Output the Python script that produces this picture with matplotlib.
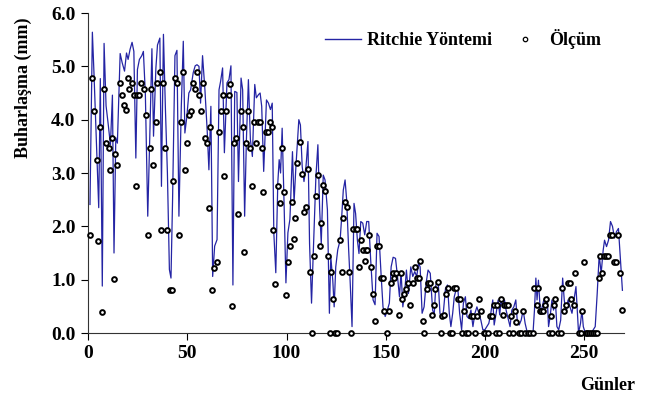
import numpy as np
import matplotlib
matplotlib.use('Agg')
import matplotlib.pyplot as plt
from matplotlib.lines import Line2D

# Ritchie Yöntemi (line): day, value
ritchie_gun = [
    1.0, 2.2, 3.0, 4.4, 5.4, 6.2, 7.2, 8.1, 9.1, 10.1, 11.3, 12.3, 13.1, 14.0, 14.8,
    16.2, 17.2, 18.4, 19.4, 20.2, 21.2, 22.2, 23.1, 24.1, 24.9, 25.9, 27.1, 27.9, 28.9,
    30.1, 31.0, 32.2, 33.0, 34.2, 35.0, 36.2, 37.0, 38.0, 39.0, 40.0, 41.0, 41.8, 42.6,
    43.8, 44.8, 45.8, 47.0, 48.0, 48.8, 49.8, 50.8, 51.7, 53.0, 54.0, 54.9, 55.9, 56.7,
    57.7, 58.9, 60.1, 60.9, 61.9, 62.8, 63.8, 65.0, 66.0, 66.8, 67.8, 68.7, 70.0, 71.0,
    72.0, 73.0, 73.9, 75.0, 75.8, 77.1, 77.9, 78.9, 79.8, 80.8, 81.8, 82.8, 84.0, 84.8,
    85.9, 86.7, 87.5, 88.5, 89.9, 90.9, 91.9, 92.8, 93.6, 94.6, 95.6, 96.3, 97.0, 97.8,
    98.8, 99.7, 100.7, 101.7, 103.0, 103.8, 104.7, 106.2, 107.0, 107.9, 108.8, 109.8,
    110.8, 111.6, 112.6, 113.8, 114.8, 115.8, 116.7, 117.5, 118.5, 119.4, 120.6, 121.6,
    122.3, 123.3, 124.0, 124.8, 125.8, 127.0, 127.8, 128.6, 129.5, 130.3, 131.3, 132.1,
    133.0, 134.0, 134.8, 135.7, 136.5, 137.4, 138.4, 139.4, 140.4, 141.4, 142.4, 143.6,
    144.6, 145.6, 146.6, 147.6, 148.6, 149.7, 150.8, 151.8, 152.7, 153.7, 154.9, 155.9,
    156.9, 157.7, 158.6, 159.6, 160.4, 161.4, 162.6, 163.6, 164.6, 165.6, 166.5, 167.3,
    168.3, 169.3, 170.3, 171.3, 172.4, 173.6, 174.4, 175.2, 176.4, 177.3, 178.3, 179.1,
    180.1, 181.1, 182.0, 182.8, 183.7, 184.5, 185.4, 186.2, 187.2, 188.2, 189.1, 190.1,
    190.9, 191.9, 192.9, 193.9, 194.9, 195.9, 196.9, 197.9, 198.9, 199.9, 200.9, 201.9,
    202.9, 203.9, 204.6, 205.6, 206.6, 207.4, 208.1, 209.0, 209.8, 210.6, 211.8, 212.6,
    213.5, 214.5, 215.5, 216.2, 217.2, 218.2, 219.2, 220.2, 221.2, 222.2, 223.2, 224.2,
    224.9, 225.6, 226.2, 226.9, 227.8, 228.6, 229.6, 230.6, 231.3, 232.0, 232.8, 233.7,
    234.5, 235.4, 236.2, 237.1, 238.1, 239.1, 239.9, 240.8, 241.8, 242.8, 243.8, 244.8,
    245.8, 247.1, 248.1, 248.8, 249.5, 250.5, 251.5, 252.5, 253.5, 254.5, 255.5, 256.5,
    257.5, 258.5, 259.5, 260.2, 261.2, 262.2, 263.2, 264.2, 265.2, 266.2, 267.2, 268.2,
    269.2]
ritchie_deger = [
    2.41, 5.64, 4.88, 3.40, 2.35, 4.77, 0.88, 5.43, 4.26, 3.94, 3.53, 4.46, 1.50, 3.66, 3.56,
    5.24, 5.07, 4.91, 5.25, 5.13, 5.32, 5.45, 5.28, 3.28, 4.94, 5.13, 5.20, 5.28, 4.47,
    2.19, 3.50, 5.33, 3.69, 4.97, 5.40, 5.53, 2.75, 5.60, 4.20, 3.00, 1.19, 1.03, 2.50,
    5.20, 5.30, 2.19, 4.25, 5.47, 3.75, 4.06, 4.50, 4.56, 4.88, 5.01, 5.03, 5.00, 4.31,
    5.20, 4.56, 3.75, 3.06, 4.25, 1.06, 1.63, 1.75, 4.56, 4.72, 4.97, 3.38, 4.69, 4.75,
    5.01, 0.90, 4.53, 4.51, 2.84, 4.78, 4.56, 2.19, 3.63, 4.75, 3.63, 3.31, 4.66, 4.41,
    4.47, 4.50, 4.25, 3.03, 4.37, 4.31, 4.19, 4.31, 1.88, 1.13, 2.81, 3.25, 3.00, 3.84,
    2.38, 0.94, 1.88, 2.13, 3.40, 2.45, 3.10, 4.00, 3.90, 3.12, 2.84, 3.12,
    3.59, 1.68, 0.56, 1.87, 2.93, 3.53, 2.31, 1.68, 2.96, 2.87, 2.31, 0.37,
    1.43, 0.99, 0.49, 1.24, 1.56, 1.74, 2.18, 2.68, 2.87, 2.49, 1.56, 0.93,
    0.12, 2.43, 2.24, 1.74, 1.49, 2.09, 2.06, 1.84, 2.09, 2.09, 1.37, 0.62,
    0.53, 1.87, 1.81, 1.12, 0.49, 0.31, 0.43, 0.56, 1.24, 1.42, 1.40, 1.06,
    0.68, 1.15, 0.49, 0.81, 1.18, 0.74, 1.24, 1.06, 1.15, 1.06, 1.31, 1.24,
    0.37, 0.49, 0.93, 1.18, 1.12, 0.43, 0.34, 0.90, 0.96, 0.37, 0.27, 0.43,
    0.84, 0.90, 0.37, 0.12, 0.37, 0.68, 0.81, 0.88, 0.37, 0.06, 0.56, 0.68,
    0.31, 0.27, 0.43, 0.12, 0.37, 0.49, 0.37, 0.24, 0.06, 0.06, 0.12, 0.18,
    0.37, 0.62, 0.15, 0.37, 0.62, 0.34, 0.62, 0.49, 0.62, 0.43, 0.24, 0.12,
    0.43, 0.49, 0.62, 0.24, 0.15, 0.24, 0.43, 0.18, 0.02, 0.02, 0.02, 0.02,
    0.43, 1.03, 0.62, 0.99, 0.43, 0.46, 0.62, 0.56, 0.68, 0.12, 0.31, 0.62,
    0.43, 0.62, 0.12, 0.06, 0.24, 1.03, 0.62, 0.37, 0.62, 0.49, 0.37, 0.62,
    0.87, 0.00, 0.18, 0.43, 0.12, 0.00, 0.00, 0.00, 0.00, 0.06, 0.12, 0.74,
    1.46, 1.12, 1.55, 1.74, 1.62, 1.74, 2.09, 2.00, 1.78, 1.90, 1.96, 1.37,
    0.80]

# Ölçüm (open circles): day, value
olcum_gun = [
    1.0, 2.0, 2.9, 4.3, 5.2, 6.2, 7.1, 8.1, 9.1, 10.4, 11.1, 12.3, 12.9, 13.8, 14.8,
    16.2, 17.2, 18.0, 19.0, 19.9, 20.9, 22.2, 23.1, 24.1, 24.9, 25.9, 26.8, 28.1, 29.0,
    30.1, 31.0, 31.8, 32.8, 34.3, 35.0, 36.2, 37.0, 37.9, 38.9, 39.7, 41.1, 42.1, 42.8,
    43.8, 44.8, 45.8, 47.0, 48.0, 48.8, 49.8, 50.8, 51.7, 53.0, 54.0, 54.9, 55.9, 56.7,
    57.7, 58.9, 60.1, 60.9, 61.6, 62.6, 63.6, 65.0, 66.0, 66.8, 67.8, 68.7, 69.7, 70.9,
    71.7, 72.7, 73.7, 74.7, 75.6, 77.1, 77.9, 78.8, 79.6, 80.6, 81.6, 82.5, 83.8, 84.8,
    85.7, 86.7, 87.5, 88.4, 89.7, 90.7, 91.8, 92.8, 93.4, 94.4, 95.8, 96.8, 97.6, 98.6,
    99.7, 100.5, 101.7, 103.0, 103.7, 104.4, 105.4, 106.6, 107.9, 108.8, 109.6, 110.8,
    111.6, 112.6, 113.8, 114.8, 115.8, 116.7, 117.5, 118.5, 119.4, 120.9, 121.7, 122.6,
    123.4, 124.3, 125.6, 126.8, 127.8, 128.6, 129.5, 130.3, 131.5, 132.6, 133.7, 134.8,
    135.7, 136.5, 137.4, 138.3, 139.4, 140.0, 140.6, 141.4, 142.4, 143.4, 144.6, 145.4,
    146.6, 147.5, 148.6, 149.3, 150.7, 151.5, 152.5, 153.4, 154.2, 155.2, 156.6, 157.6,
    158.4, 159.3, 160.1, 161.1, 162.3, 163.5, 164.5, 165.5, 166.5, 167.4, 168.6, 169.4,
    170.6, 171.4, 172.4, 173.2, 174.1, 174.8, 176.4, 177.6, 178.3, 179.1, 180.1, 181.1,
    182.5, 183.3, 184.5, 185.4, 186.2, 187.2, 188.2, 189.2, 190.2, 191.2, 192.1, 193.1,
    193.9, 195.1, 195.9, 197.1, 198.1, 199.3, 200.2, 201.3, 202.3, 203.3, 204.3, 205.4,
    206.0, 207.2, 208.1, 209.0, 209.8, 210.6, 211.8, 212.3, 213.1, 214.1, 215.1, 215.8,
    217.3, 218.2, 219.2, 220.2, 221.5, 222.9, 224.2, 224.9, 226.2, 226.9, 227.6, 228.3,
    229.1, 230.0, 230.8, 232.0, 233.0, 233.7, 234.5, 235.4, 236.7, 238.1, 238.9, 239.9,
    240.7, 241.7, 242.6, 243.4, 244.7, 245.4, 247.1, 248.1, 248.8, 249.8, 250.8, 251.5,
    252.5, 253.5, 254.5, 255.5, 256.5, 257.2, 257.9, 258.9, 259.9, 260.9, 261.9, 262.9,
    263.9, 264.9, 265.9, 266.9, 267.9, 268.9]
olcum_deger = [
    1.83, 4.79, 4.17, 3.25, 1.72, 3.86, 0.40, 4.58, 3.56, 3.46, 3.05, 3.66, 1.01, 3.35, 3.15,
    4.68, 4.47, 4.28, 4.18, 4.79, 4.58, 4.68, 4.47, 2.75, 4.47, 4.47, 4.68, 4.58, 4.08,
    1.83, 3.46, 4.58, 3.15, 3.96, 4.68, 4.89, 1.93, 4.68, 3.46, 1.93, 0.81, 0.81, 2.85,
    4.79, 4.68, 1.83, 3.96, 4.89, 3.05, 3.56, 4.08, 4.17, 4.68, 4.58, 4.89, 4.47, 4.17,
    4.68, 3.66, 3.56, 2.34, 3.86, 0.81, 1.21, 1.33, 3.76, 4.17, 4.47, 2.95, 4.17, 4.47,
    4.67, 0.50, 3.56, 3.66, 2.24, 4.17, 3.86, 1.52, 3.56, 4.17, 3.46, 2.75, 3.96, 3.56,
    3.96, 3.96, 3.46, 2.64, 3.76, 3.76, 3.96, 3.86, 1.93, 0.91, 2.75, 2.44, 3.46, 2.64,
    0.71, 1.33, 1.63, 2.46, 1.76, 2.16, 3.18, 3.58, 2.98, 2.26, 2.36, 3.07,
    1.14, 0.00, 1.45, 2.56, 2.96, 1.64, 2.06, 2.78, 2.67, 1.45, 0.00, 1.14,
    0.64, 0.00, 0.00, 1.74, 1.14, 2.16, 2.46, 2.36, 1.14, 0.00, 1.95, 1.95,
    1.95, 1.24, 1.74, 1.56, 1.35, 1.56, 1.56, 1.84, 1.23, 0.73, 0.22, 1.64,
    1.64, 1.04, 1.04, 0.42, 0.00, 0.42, 0.93, 1.13, 1.04, 1.13, 0.33, 1.13,
    0.63, 0.73, 0.83, 0.93, 0.53, 0.93, 1.23, 1.04, 1.04, 1.35, 0.22, 0.00,
    0.83, 0.93, 0.93, 0.33, 0.53, 0.83, 0.95, 0.00, 0.32, 0.33, 0.73, 0.84,
    0.00, 0.00, 0.84, 0.84, 0.63, 0.63, 0.00, 0.42, 0.00, 0.00, 0.52, 0.32,
    0.32, 0.00, 0.32, 0.64, 0.42, 0.00, 0.00, 0.00, 0.32, 0.32, 0.52, 0.00,
    0.52, 0.00, 0.63, 0.33, 0.52, 0.52, 0.52, 0.00, 0.32, 0.00, 0.42, 0.21,
    0.00, 0.00, 0.42, 0.00, 0.00, 0.00, 0.00, 0.84, 0.52, 0.84, 0.42, 0.42,
    0.42, 0.52, 0.63, 0.00, 0.32, 0.00, 0.52, 0.63, 0.00, 0.00, 0.84, 0.42,
    0.52, 0.93, 0.93, 0.63, 0.52, 1.13, 0.00, 0.00, 0.42, 1.34, 0.00, 0.00,
    0.00, 0.00, 0.00, 0.00, 0.00, 1.03, 1.44, 1.13, 1.44, 1.44, 1.44, 1.83,
    1.83, 1.34, 1.34, 1.83, 1.13, 0.43]

x_ticks = [0, 50, 100, 150, 200, 250]
y_ticks = [0.0, 1.0, 2.0, 3.0, 4.0, 5.0, 6.0]

plt.rcParams['font.family'] = ['Liberation Serif', 'DejaVu Serif']
plt.rcParams['font.weight'] = 'bold'

fig = plt.figure(figsize=(6.54, 4.01), dpi=100)
ax = fig.add_axes([88 / 654, 1 - 333 / 401, (624 - 88) / 654, (333 - 13) / 401])

line_renk = '#2424a4'
ax.plot(ritchie_gun, ritchie_deger, color=line_renk, lw=0.9, zorder=2)
ax.plot(olcum_gun, olcum_deger, ls='none', marker='o', ms=3.4, mfc='white',
        mec='black', mew=1.4, zorder=3, clip_on=False)

ax.set_xlim(0, 270)
ax.set_ylim(0, 6)
ax.set_xticks(x_ticks)
ax.set_yticks(y_ticks)
ax.set_yticklabels(['%.1f' % v for v in y_ticks])
ax.tick_params(axis='both', direction='out', length=5, width=0.8, colors='black',
               labelsize=14, pad=4)
for lab in ax.get_xticklabels() + ax.get_yticklabels():
    lab.set_fontweight('bold')

for s in ['top', 'right']:
    ax.spines[s].set_visible(False)
for s in ['left', 'bottom']:
    ax.spines[s].set_linewidth(0.8)
    ax.spines[s].set_color('#333333')

fig.text(23 / 654, 1 - 88 / 401, 'Buharlaşma (mm)', rotation=90, ha='center',
         va='center', fontsize=13, fontweight='bold')
fig.text(635 / 654, 1 - 386 / 401, 'Günler', ha='right', va='center',
         fontsize=13, fontweight='bold')

handles = [Line2D([], [], color=line_renk, lw=1.0),
           Line2D([], [], ls='none', marker='o', ms=3.2, mfc='white', mec='black', mew=0.9)]
ax.legend(handles, ['Ritchie Yöntemi', 'Ölçüm'], ncol=2, frameon=False,
          loc='upper right', bbox_to_anchor=(610 / 654, 1 - 20 / 401),
          bbox_transform=fig.transFigure, borderpad=0, handlelength=2.0,
          handletextpad=0.35, columnspacing=0.8,
          prop={'size': 13, 'weight': 'bold'})

fig.savefig('out.png', dpi=100)
